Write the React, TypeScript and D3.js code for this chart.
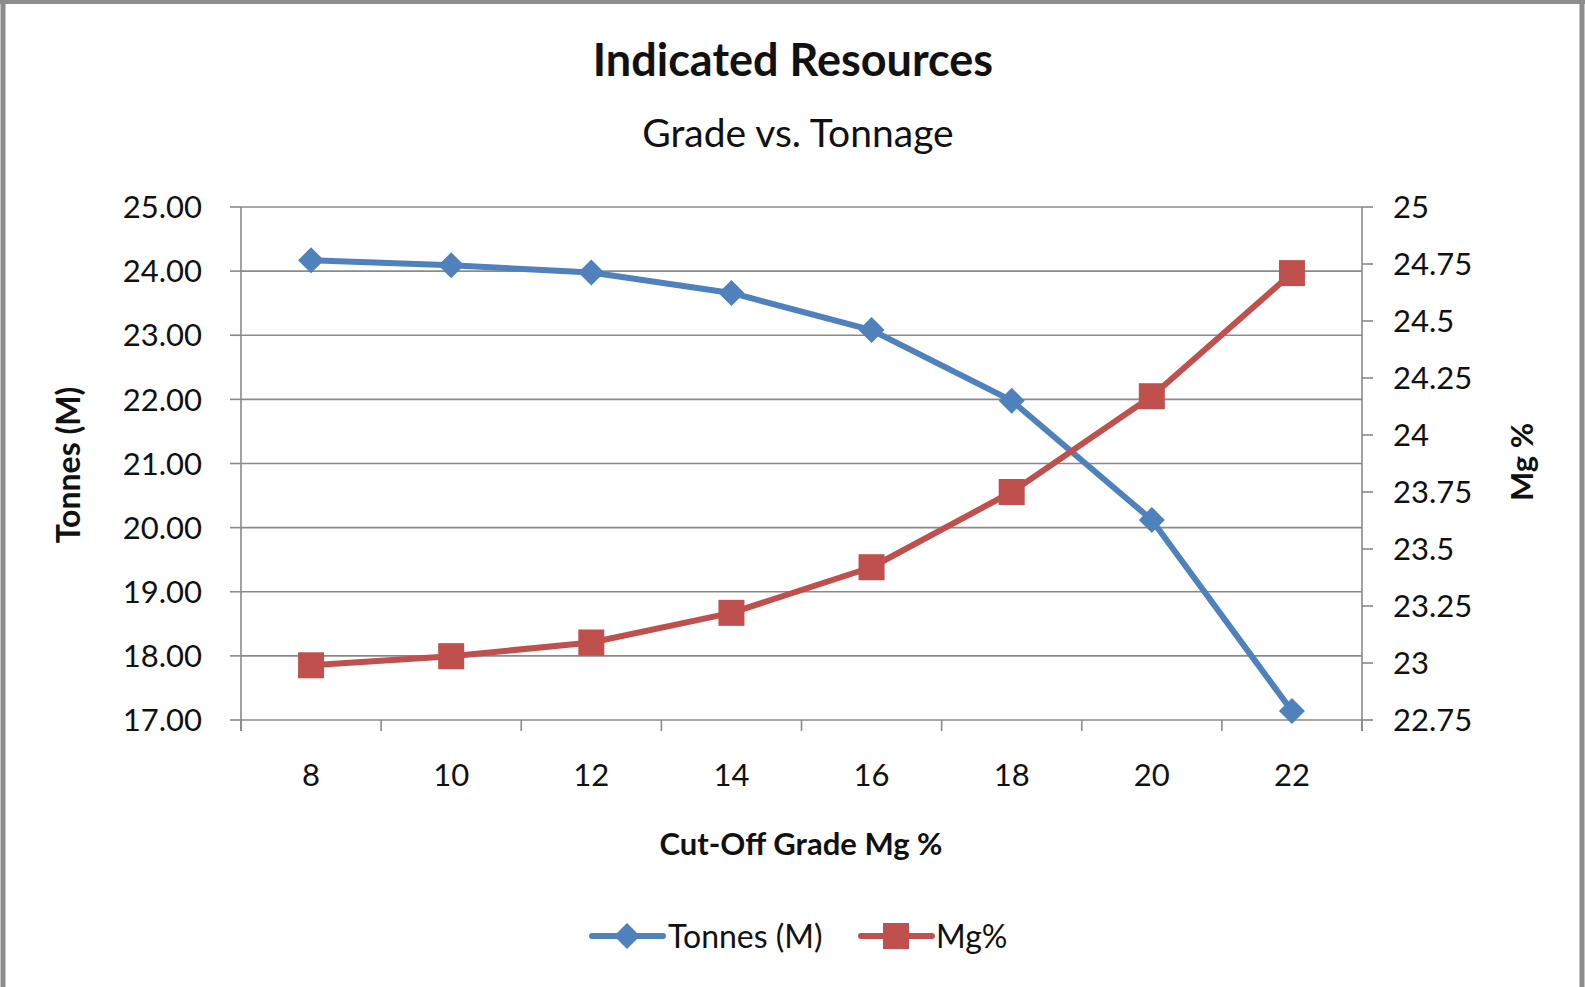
import React from "react";
import * as d3 from "d3";

const categories: number[] = [8, 10, 12, 14, 16, 18, 20, 22];
const tonnes: number[] = [24.17, 24.09, 23.98, 23.66, 23.08, 21.98, 20.12, 17.14];
const mgPct: number[] = [22.99, 23.03, 23.09, 23.22, 23.42, 23.75, 24.17, 24.71];
const leftTicks: number[] = [17, 18, 19, 20, 21, 22, 23, 24, 25];
const rightTicks: number[] = [22.75, 23, 23.25, 23.5, 23.75, 24, 24.25, 24.5, 24.75, 25];

const W = 1585;
const H = 987;
const L = 241, R = 1362, T = 207, B = 720;
const BLUE = "#4F81BD";
const RED = "#C0504D";
const GRID = "#8a8a8a";
const FONT = "Lato, 'Open Sans', sans-serif";
const TICK_FS = 31;

export default function App() {
  const x = d3.scaleBand<number>().domain(categories).range([L, R]).paddingInner(0).paddingOuter(0);
  const yL = d3.scaleLinear().domain([17, 25]).range([B, T]);
  const yR = d3.scaleLinear().domain([22.75, 25]).range([B, T]);
  const cx = (c: number) => (x(c) as number) + x.bandwidth() / 2;

  const lineT = d3.line<number>().x((_, i) => cx(categories[i])).y((d) => yL(d))(tonnes) || "";
  const lineM = d3.line<number>().x((_, i) => cx(categories[i])).y((d) => yR(d))(mgPct) || "";

  const boundaries = d3.range(categories.length + 1).map((i) => L + i * x.bandwidth());
  const fmtL = d3.format(".2f");
  const fmtR = d3.format("~g");

  const diamond = (px: number, py: number, s: number) =>
    `M${px},${py - s} L${px + s},${py} L${px},${py + s} L${px - s},${py} Z`;

  return (
    <svg width={W} height={H} style={{ position: "absolute", left: 0, top: 0, background: "#fff" }} fontFamily={FONT}>
      <rect x={0} y={0} width={W} height={H} fill="#fff" />
      {/* frame */}
      <line x1={0} y1={2} x2={W} y2={2} stroke="#8c8c8c" strokeWidth={4} />
      <line x1={3} y1={0} x2={3} y2={H} stroke="#8c8c8c" strokeWidth={5} />
      <line x1={W - 3} y1={0} x2={W - 3} y2={H} stroke="#8c8c8c" strokeWidth={5} />

      {/* titles */}
      <text x={793} y={76} textAnchor="middle" fontSize={45} fontWeight="bold" fill="#111">Indicated Resources</text>
      <text x={798} y={147} textAnchor="middle" fontSize={39} fill="#111">Grade  vs. Tonnage</text>

      {/* gridlines */}
      {leftTicks.map((t) => (
        <line key={"g" + t} x1={L} x2={R} y1={yL(t)} y2={yL(t)} stroke={GRID} strokeWidth={1.6} />
      ))}
      {/* left axis */}
      <line x1={L} x2={L} y1={T} y2={B + 11} stroke={GRID} strokeWidth={1.6} />
      {leftTicks.map((t) => (
        <g key={"l" + t}>
          <line x1={L - 11} x2={L} y1={yL(t)} y2={yL(t)} stroke={GRID} strokeWidth={1.6} />
          <text x={202} y={yL(t)} dy="0.36em" textAnchor="end" fontSize={TICK_FS} fill="#111">{fmtL(t)}</text>
        </g>
      ))}
      {/* right axis */}
      <line x1={R} x2={R} y1={T} y2={B + 11} stroke={GRID} strokeWidth={1.6} />
      {rightTicks.map((t) => (
        <g key={"r" + t}>
          <line x1={R} x2={R + 11} y1={yR(t)} y2={yR(t)} stroke={GRID} strokeWidth={1.6} />
          <text x={1393} y={yR(t)} dy="0.36em" textAnchor="start" fontSize={TICK_FS} fill="#111">{fmtR(t)}</text>
        </g>
      ))}
      {/* bottom axis */}
      {boundaries.map((b, i) => (
        <line key={"b" + i} x1={b} x2={b} y1={B} y2={B + 11} stroke={GRID} strokeWidth={1.6} />
      ))}
      {categories.map((c) => (
        <text key={"x" + c} x={cx(c)} y={786} textAnchor="middle" fontSize={TICK_FS} fill="#111">{c}</text>
      ))}

      {/* axis titles */}
      <text x={801} y={855} textAnchor="middle" fontSize={31} fontWeight="bold" fill="#111">Cut-Off Grade Mg %</text>
      <text transform={`translate(80,465) rotate(-90)`} textAnchor="middle" fontSize={32} fontWeight="bold" fill="#111">Tonnes (M)</text>
      <text transform={`translate(1533,462) rotate(-90)`} textAnchor="middle" fontSize={31} fontWeight="bold" fill="#111">Mg %</text>

      {/* series */}
      <path d={lineT} fill="none" stroke={BLUE} strokeWidth={6} strokeLinejoin="round" />
      <path d={lineM} fill="none" stroke={RED} strokeWidth={6} strokeLinejoin="round" />
      {tonnes.map((v, i) => (
        <path key={"d" + i} d={diamond(cx(categories[i]), yL(v), 13)} fill={BLUE} />
      ))}
      {mgPct.map((v, i) => (
        <rect key={"s" + i} x={cx(categories[i]) - 13} y={yR(v) - 13} width={26} height={26} fill={RED} />
      ))}

      {/* legend */}
      <line x1={592} x2={663} y1={936} y2={936} stroke={BLUE} strokeWidth={6} strokeLinecap="round" />
      <path d={diamond(627, 936, 13)} fill={BLUE} />
      <text x={668} y={936} dy="0.36em" fontSize={32} fill="#111">Tonnes (M)</text>
      <line x1={861} x2={932} y1={936} y2={936} stroke={RED} strokeWidth={6} strokeLinecap="round" />
      <rect x={883} y={923} width={26} height={26} fill={RED} />
      <text x={936} y={936} dy="0.36em" fontSize={32} fill="#111">Mg%</text>
    </svg>
  );
}
